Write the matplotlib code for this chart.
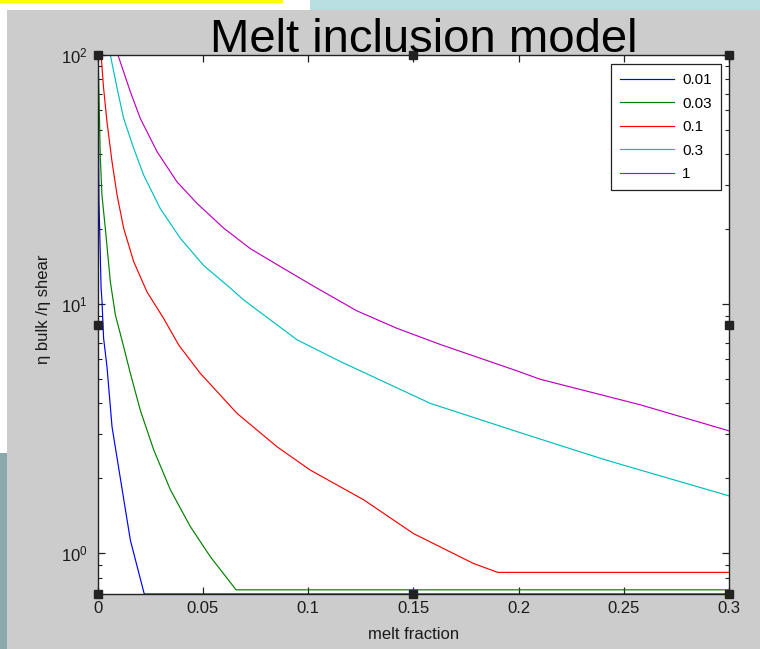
import matplotlib
matplotlib.use("Agg")
import matplotlib.pyplot as plt
from matplotlib.patches import Rectangle
from matplotlib.ticker import NullFormatter, LogLocator

plt.rcParams['font.family'] = ['Liberation Sans', 'DejaVu Sans']
plt.rcParams['mathtext.fontset'] = 'custom'
plt.rcParams['mathtext.rm'] = 'Liberation Sans'
plt.rcParams['mathtext.it'] = 'Liberation Sans:italic'

# ---- data ----
series_labels = ["0.01", "0.03", "0.1", "0.3", "1"]
series_colors = ["#0000ff", "#008000", "#ff0000", "#00bfbf", "#bf00bf"]

x_001 = [0.0002, 0.0007, 0.0017, 0.0021, 0.0029, 0.0045, 0.0069, 0.0115, 0.0156, 0.0222, 0.3]
y_001 = [100, 26, 11.6, 10.4, 7.29, 5.61, 3.22, 1.85, 1.13, 0.687, 0.687]

x_003 = [0.0003, 0.0013, 0.0021, 0.0037, 0.0061, 0.0085, 0.0116, 0.0156, 0.0203,
         0.0267, 0.0346, 0.0441, 0.0536, 0.0658, 0.3]
y_003 = [100, 39.7, 27.4, 20.2, 12.3, 9.04, 7.18, 5.28, 3.76,
         2.60, 1.80, 1.28, 0.969, 0.714, 0.714]

x_01 = [0.0017, 0.0029, 0.0045, 0.0069, 0.0093, 0.0124, 0.0172, 0.0235, 0.0314, 0.0386,
        0.0488, 0.0662, 0.0852, 0.101, 0.1264, 0.1501, 0.1784, 0.1900, 0.3]
y_01 = [100, 73.5, 53.9, 37.3, 27.4, 20.2, 14.8, 11.2, 8.77, 6.85,
        5.28, 3.65, 2.68, 2.16, 1.64, 1.20, 0.912, 0.839, 0.839]

x_03 = [0.0061, 0.0093, 0.0124, 0.0172, 0.0219, 0.0298, 0.0393, 0.0504, 0.0631, 0.0694,
        0.0947, 0.1151, 0.158, 0.1992, 0.2386, 0.2497, 0.3]
y_03 = [100, 73.5, 55.7, 42.2, 33.0, 24.2, 18.4, 14.3, 11.6, 10.4,
        7.2, 5.9, 4.0, 3.08, 2.41, 2.26, 1.70]

x_1 = [0.0097, 0.0156, 0.0203, 0.0283, 0.0377, 0.0472, 0.0599, 0.0726, 0.0884, 0.1042,
       0.1232, 0.1422, 0.1626, 0.1992, 0.2101, 0.2576, 0.3]
y_1 = [100, 71.2, 55.7, 40.9, 31.0, 25.4, 20.2, 16.7, 13.9, 11.6,
       9.4, 8.0, 6.9, 5.4, 5.0, 3.95, 3.10]

x_ticks = [0, 0.05, 0.1, 0.15, 0.2, 0.25, 0.3]
x_tick_labels = ["0", "0.05", "0.1", "0.15", "0.2", "0.25", "0.3"]
y_ticks = [1, 10, 100]
y_tick_labels = [r"$10^{0}$", r"$10^{1}$", r"$10^{2}$"]
x_limits = (0, 0.3)
y_limits = (0.687, 100)

title_text = "Melt inclusion model"
x_label = "melt fraction"
y_label = "\u03b7 bulk /\u03b7 shear"

# ---- figure ----
W, H = 760, 649
fig = plt.figure(figsize=(W / 100, H / 100), dpi=100, facecolor="white")

def px_rect(x0, y0, x1, y1, color):
    fig.patches.append(Rectangle((x0 / W, 1 - y1 / H), (x1 - x0) / W, (y1 - y0) / H,
                                 transform=fig.transFigure, facecolor=color,
                                 edgecolor="none", zorder=-10))

px_rect(7, 10, 760, 649, "#cccccc")        # gray panel
px_rect(310, 0, 760, 10, "#b9dfe2")        # light cyan strip
px_rect(0, 0, 283, 3, "#ffff00")           # yellow bar
px_rect(0, 453, 7, 649, "#8aa9aa")         # teal strip

ax = fig.add_axes([97.5 / W, 1 - 594 / H, 631.8 / W, 539 / H])
ax.set_zorder(5)
ax.set_facecolor("white")

series_x = [x_001, x_003, x_01, x_03, x_1]
series_y = [y_001, y_003, y_01, y_03, y_1]
for xs, ys, c, lab in zip(series_x, series_y, series_colors, series_labels):
    ax.plot(xs, ys, color=c, lw=0.85, label=lab)

ax.set_yscale("log")
ax.set_xlim(*x_limits)
ax.set_ylim(*y_limits)
ax.set_xticks(x_ticks)
ax.set_xticklabels(x_tick_labels)
ax.set_yticks(y_ticks)
ax.set_yticklabels(y_tick_labels)
ax.yaxis.set_minor_locator(LogLocator(base=10, subs=range(2, 10)))
ax.yaxis.set_minor_formatter(NullFormatter())
ax.tick_params(which="both", direction="in", top=True, right=True, colors="#222222")
ax.tick_params(which="major", length=5, width=0.9, labelsize=12, labelcolor="#1a1a1a")
ax.tick_params(which="minor", length=3, width=0.8)
ax.tick_params(axis="y", which="major", pad=7)
ax.tick_params(axis="x", which="major", pad=5)
for s in ax.spines.values():
    s.set_color("#222222")
    s.set_linewidth(1.0)

ax.set_xlabel(x_label, fontsize=12, color="#1a1a1a", labelpad=8)
ax.set_ylabel(y_label, fontsize=12, color="#1a1a1a")
ax.yaxis.set_label_coords((51 - 97.5) / 631.8, (594 - 309) / 539)

leg = ax.legend(loc="upper right", bbox_to_anchor=(0.987, 0.983), borderaxespad=0,
                fancybox=False, framealpha=1, edgecolor="#222222", fontsize=11,
                handlelength=3.5, handletextpad=0.55, labelspacing=0.62,
                borderpad=0.6)
leg.get_frame().set_linewidth(0.9)

fig.text(424 / W, 1 - 52 / H, title_text, fontsize=34, ha="center", va="baseline",
         color="black", zorder=10)

# selection handles (decoration, axes-fraction positions)
for fx, fy in [(0, 1), (0.5, 1), (1, 1), (0, 0.5), (1, 0.5), (0, 0), (0.5, 0), (1, 0)]:
    ax.plot([fx], [fy], marker="s", ms=5.5, color="#222222", transform=ax.transAxes,
            clip_on=False, zorder=10)

fig.savefig("out.png", dpi=100, facecolor=fig.get_facecolor())
